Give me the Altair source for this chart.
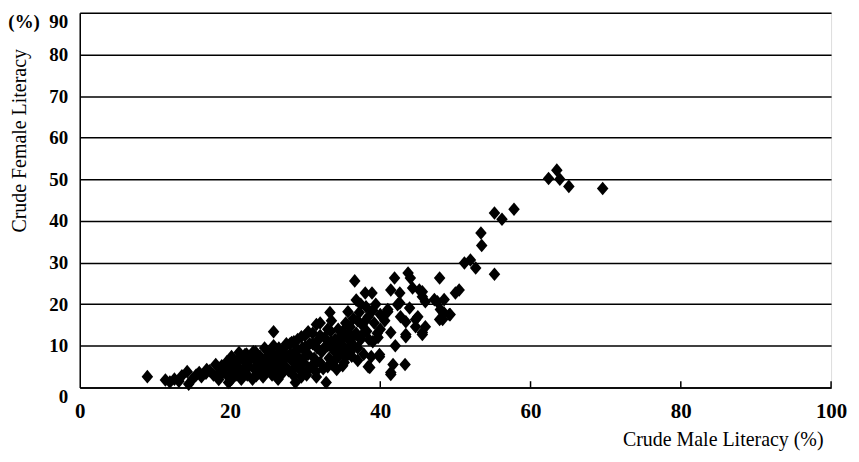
import altair as alt
import pandas as pd

# Crude male literacy (%) and crude female literacy (%) for each unit
male = [
    # low-left tail
    9.0, 11.4, 12.0, 12.6, 13.2, 13.6, 14.3, 14.5, 15.0, 15.5, 15.9, 16.2, 16.8, 16.9, 17.3,
    17.8, 18.1, 18.5, 18.6, 18.9, 19.6, 19.8, 20.2, 20.2, 21.2, 22.0, 23.1,
    # dense cluster
    19.0, 19.5, 19.8, 20.2, 20.5, 20.8, 21.0, 21.3, 21.5, 21.7, 22.0, 22.2, 22.3, 22.5,
    22.8, 23.0, 23.2, 23.4, 23.6, 23.8, 24.0, 24.2, 24.4, 24.6, 24.8, 25.0, 25.2,
    25.4, 25.6, 25.8, 26.0, 26.2, 26.4, 26.6, 26.8, 27.0, 27.2, 27.4, 27.6, 27.8, 28.0, 28.2, 28.4, 28.6, 28.7,
    28.8, 29.0, 29.2, 29.4, 29.6, 29.8, 30.0, 30.2, 30.4, 30.6, 30.8, 31.0, 31.2, 31.4, 31.6, 31.8, 32.0, 32.0,
    32.2, 32.4, 32.6, 32.8, 33.0, 33.2, 33.3, 33.5, 33.4, 33.6, 33.8, 34.0, 34.1, 34.2, 34.4, 34.6, 34.8, 35.0,
    35.2, 35.4, 35.7, 35.6, 35.8, 36.0,
    36.2, 36.4, 36.6, 36.8, 36.8, 37.0, 37.2, 37.4, 37.4, 37.6, 37.8, 38.0, 38.1, 38.2, 38.4, 38.6, 38.8, 38.9,
    39.0, 39.2, 39.4, 39.6, 39.9, 40.0,
    25.0, 25.5, 26.0, 26.5, 27.0, 27.5, 28.0, 28.5, 29.0, 29.5, 30.0, 30.5, 31.0, 31.5, 32.0, 32.5, 33.0,
    33.5, 34.0, 34.5, 35.0, 35.5, 36.0, 36.5, 37.0, 37.5, 38.0, 38.5, 39.0, 35.0, 36.0, 33.0, 30.0, 28.5,
    27.0, 24.0, 22.0, 21.0, 20.0, 23.5, 29.5, 31.5, 26.0, 35.0, 37.0, 25.8, 28.2, 29.5, 30.4, 31.5,
    # 40-50 group
    41.9, 43.7, 44.0, 47.9, 41.4, 42.6, 44.3, 45.6, 47.2, 48.5, 42.6, 43.9, 41.0, 42.7, 44.7, 45.6, 43.4,
    47.9, 48.0, 40.3, 41.4, 43.4, 44.7, 46.0, 45.2, 45.6, 42.3, 45.0, 41.7, 41.4, 43.3, 41.4, 39.9, 38.4,
    41.0, 43.4, 45.6, 48.5, 49.2, 50.5, 50.0, 46.0, 47.6, 48.3, 49.3, 40.0, 39.7, 40.6, 36.4, 35.3, 42.0,
    # upper tail
    51.2, 52.0, 52.7, 55.2, 53.4, 53.5, 55.2, 56.2, 57.8, 62.4, 63.5, 63.9, 65.1, 69.6,
]
female = [
    2.6, 1.8, 1.3, 2.0, 1.5, 2.8, 3.8, 0.8, 2.0, 3.0, 3.6, 2.6, 3.4, 4.3, 4.0,
    3.0, 5.5, 1.9, 3.6, 5.2, 6.2, 1.2, 7.4, 1.9, 8.4, 7.9, 8.6,
    3.5, 5.0, 2.5, 4.2, 6.0, 3.0, 5.0, 7.0, 2.0, 4.0, 6.0, 8.0, 3.0, 5.0,
    7.0, 2.0, 4.5, 8.5, 6.0, 3.5, 7.5, 5.0, 2.5, 9.5, 6.5, 4.0, 8.0,
    5.5, 3.0, 10.0, 7.0, 4.5, 2.0, 8.5, 6.0, 3.5, 9.5, 5.0, 7.5, 4.0, 10.5, 6.5, 3.0, 8.5, 1.2,
    5.5, 11.5, 7.0, 4.0, 9.5, 6.0, 12.5, 3.0, 8.0, 10.5, 5.0, 13.0, 7.0, 3.8, 9.5, 11.5, 15.5, 6.0,
    8.5, 4.5, 12.0, 1.2, 10.0, 7.0, 18.0, 16.0, 13.5, 5.5, 9.0, 11.5, 6.7, 4.3, 14.0, 8.0, 12.5, 10.0,
    6.0, 15.5, 18.2, 9.0, 13.0, 11.0,
    7.5, 16.5, 25.6, 21.0, 13.0, 9.5, 18.0, 20.0, 11.5, 15.0, 8.0, 22.7, 19.4, 13.5, 17.0, 4.8, 7.4, 22.7,
    11.0, 15.5, 20.0, 13.0, 7.4, 17.5,
    6.5, 8.5, 5.0, 9.5, 6.5, 10.5, 8.0, 4.5, 9.0, 5.5, 7.5, 4.5, 10.5, 6.0, 12.5, 9.5, 5.0,
    11.0, 8.5, 10.5, 13.5, 7.5, 14.5, 10.0, 16.0, 12.5, 16.0, 11.5, 18.5, 11.8, 8.5, 14.0, 9.8, 11.0,
    8.0, 6.0, 4.5, 3.5, 5.5, 2.8, 2.5, 2.5, 3.0, 5.2, 6.5, 13.4, 10.8, 12.2, 13.4, 15.1,
    26.3, 27.5, 26.3, 26.3, 23.4, 22.7, 23.9, 23.0, 21.1, 21.1, 20.3, 19.1, 18.7, 17.0, 16.3, 13.2, 12.7,
    16.3, 18.7, 17.0, 13.2, 15.8, 14.6, 14.6, 23.4, 21.8, 19.9, 17.0, 5.5, 3.1, 5.5, 3.6, 7.9, 5.0,
    18.2, 12.2, 12.7, 17.9, 17.5, 23.4, 22.7, 20.6, 20.6, 16.3, 17.5, 14.0, 12.0, 16.0, 12.2, 7.4, 10.0,
    29.9, 30.6, 28.7, 27.2, 37.1, 34.1, 41.9, 40.4, 42.8, 50.2, 52.2, 50.0, 48.3, 47.8,
]

x_ticks = [20, 40, 60, 80, 100]
y_tick_len = [1.5, 1.5, 1.5, 1.5, 1.5]

df = pd.DataFrame({"male": male, "female": female})
ticks_df = pd.DataFrame({"t": x_ticks, "y0": [0] * len(x_ticks), "y1": y_tick_len})

FONT = "Liberation Serif"

xscale = alt.Scale(domain=[0, 100], nice=False, zero=True)
yscale = alt.Scale(domain=[0, 90], nice=False, zero=True)

points = alt.Chart(df).mark_point(
    shape="M-0.85,0L0,-1L0.85,0L0,1Z",
    filled=True,
    size=185,
    color="#000000",
    opacity=1,
).encode(
    x=alt.X(
        "male:Q",
        scale=xscale,
        axis=alt.Axis(
            values=[0, 20, 40, 60, 80, 100],
            format="d",
            ticks=False,
            grid=False,
            domain=True,
            domainColor="#000000",
            domainWidth=1.5,
            labelFont=FONT,
            labelFontSize=21,
            labelFontWeight="bold",
            labelColor="#000000",
            labelPadding=13,
            labelFlush=False,
            labelOverlap=False,
            title="Crude Male Literacy (%)",
            titleFont=FONT,
            titleFontSize=20,
            titleFontWeight="normal",
            titleColor="#000000",
            titleX=746,
            titleY=52,
            titleAlign="right",
            titleBaseline="middle",
        ),
    ),
    y=alt.Y(
        "female:Q",
        scale=yscale,
        axis=alt.Axis(
            values=[0, 10, 20, 30, 40, 50, 60, 70, 80, 90],
            format="d",
            ticks=False,
            grid=True,
            gridColor="#000000",
            gridWidth=1.5,
            domain=True,
            domainColor="#000000",
            domainWidth=1.5,
            labelFont=FONT,
            labelFontSize=19,
            labelFontWeight="bold",
            labelColor="#000000",
            labelPadding=12,
            labelFlush=False,
            labelOverlap=False,
            labelBaseline={
                "condition": {"test": "datum.value == 90 || datum.value == 0", "value": "top"},
                "value": "middle",
            },
            labelExpr="datum.value == 90 ? '(%)\u00a0\u00a0' + datum.label : datum.label",
            title="Crude Female Literacy",
            titleFont=FONT,
            titleFontSize=20,
            titleFontWeight="normal",
            titleColor="#000000",
            titleX=-54,
            titleY=128,
            titleAngle=-90,
            titleAlign="center",
            titleBaseline="alphabetic",
        ),
    ),
)

tick_rules = alt.Chart(ticks_df).mark_rule(color="#000000", strokeWidth=1.5).encode(
    x=alt.X("t:Q", scale=xscale),
    y=alt.Y("y0:Q", scale=yscale),
    y2="y1:Q",
)

chart = (
    alt.layer(points, tick_rules)
    .properties(
        width=754,
        height=376,
        autosize=alt.AutoSizeParams(type="none"),
        padding={"left": 72, "top": 4, "right": 20, "bottom": 72},
    )
    .configure_view(stroke=None)
    .configure(background="#ffffff")
)

chart.save("out.html", embed_options={"renderer": "svg", "actions": False})
